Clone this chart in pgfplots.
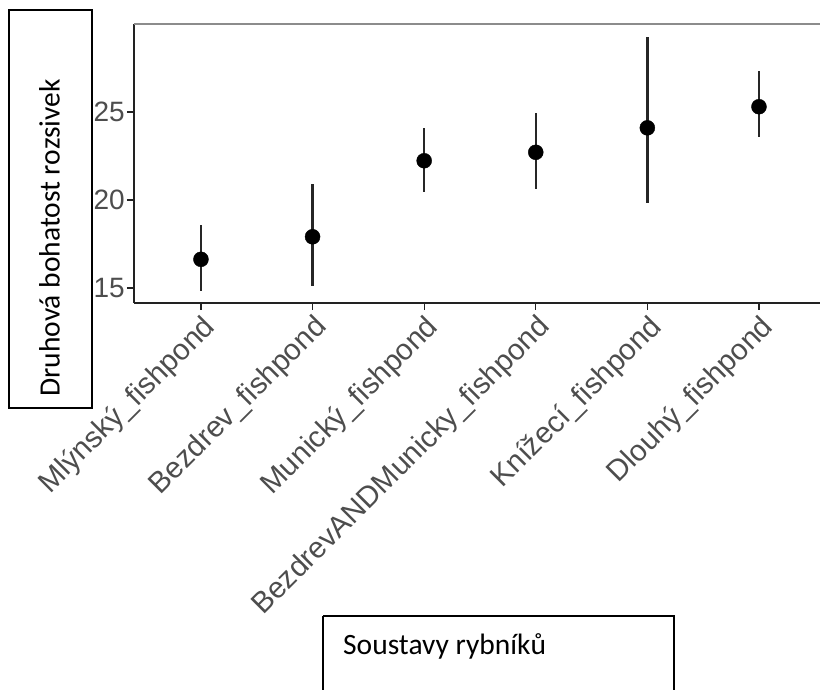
\documentclass[border=0pt]{standalone}
\usepackage{pgfplots}
\pgfplotsset{compat=1.18}
\usepackage{pgfplotstable}
\usepackage{fontspec}
\setmainfont{Liberation Sans}
\newfontfamily\calibri{Carlito}
\definecolor{ticktext}{HTML}{4D4D4D}
\definecolor{axline}{HTML}{222222}

\pgfplotstableread{
x y lo hi
1 16.63 14.85 18.58
2 17.91 15.13 20.91
3 22.23 20.44 24.07
4 22.71 20.63 24.93
5 24.10 19.85 29.24
6 25.30 23.56 27.33
}\datatab

\begin{document}
\begin{tikzpicture}
\path[use as bounding box] (0pt,0pt) rectangle (820pt,690pt);
\begin{axis}[
  at={(134pt,387pt)}, anchor=south west,
  scale only axis, width=686pt, height=279pt,
  xmin=0.4, xmax=6.547, ymin=14.148, ymax=30,
  axis x line*=bottom, axis y line*=left,
  axis line style={-, line width=1.4pt, color=axline},
  xtick={1,2,3,4,5,6},
  xticklabels={Mlýnský\_fishpond,Bezdrev\_fishpond,Munický\_fishpond,BezdrevANDMunicky\_fishpond,Knížecí\_fishpond,Dlouhý\_fishpond},
  ytick={15,20,25},
  tick align=outside, major tick length=7pt,
  tick style={line width=1.2pt, color=axline},
  /pgf/number format/assume math mode=true,
  yticklabel style={font=\fontsize{28}{28}\selectfont, color=ticktext, inner sep=2pt},
  xticklabel style={font=\fontsize{29.5}{29.5}\selectfont, color=ticktext, rotate=45, anchor=north east, inner sep=2pt},
  clip=false,
]
\draw[line width=1.6pt, color=black!45] (rel axis cs:0,1) -- (rel axis cs:1,1);
\addplot[only marks, mark=*, mark size=7.5pt, color=black,
  error bars/.cd, y dir=both, y explicit, error mark=none,
  error bar style={line width=2.4pt, color=black!85}]
  table[x=x, y=y, y error plus expr=\thisrow{hi}-\thisrow{y}, y error minus expr=\thisrow{y}-\thisrow{lo}] {\datatab};
\end{axis}
\draw[line width=1.4pt] (9pt,680pt) rectangle (92pt,282pt);
\node[rotate=90, anchor=base west, inner sep=0pt, font=\calibri\fontsize{29.5}{32}\selectfont] at (59.5pt,293pt) {Druhová bohatost rozsivek};
\draw[line width=1.4pt] (323pt,74pt) -- (323pt,-5pt) (323pt,74pt) -- (674pt,74pt) -- (674pt,-5pt);
\node[anchor=base west, inner sep=0pt, font=\calibri\fontsize{29.5}{32}\selectfont] at (343pt,35pt) {Soustavy rybníků};
\end{tikzpicture}
\end{document}
